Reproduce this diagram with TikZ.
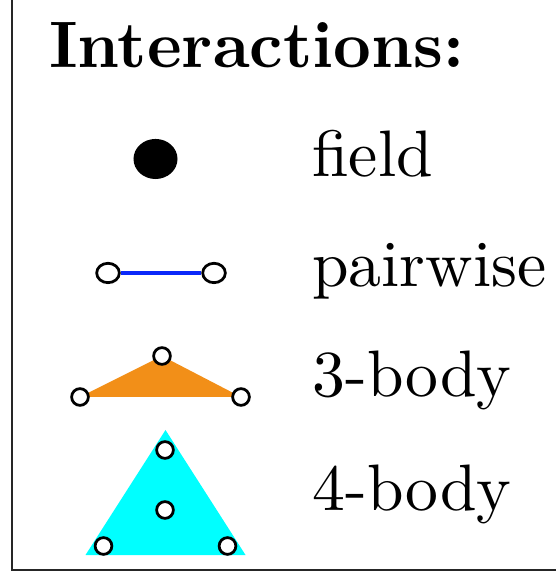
\documentclass[tikz,border=0pt]{standalone}
\usetikzlibrary{shapes.geometric}
\definecolor{pairblue}{RGB}{10,40,250}
\definecolor{triorange}{RGB}{242,143,24}
\definecolor{quadcyan}{RGB}{0,255,255}
\begin{document}
\begin{tikzpicture}[x=0.1522pt,y=-0.1522pt,
  vtx/.style={circle,draw=black,fill=white,line width=0.42pt,inner sep=0pt,minimum size=2.55pt},
  pairvtx/.style={ellipse,draw=black,fill=white,line width=0.42pt,inner sep=0pt,minimum width=3.45pt,minimum height=2.95pt},
  fielddot/.style={ellipse,fill=black,inner sep=0pt,minimum width=6.7pt,minimum height=6.1pt},
  label/.style={anchor=base west,inner sep=0pt,font=\fontsize{10}{12}\selectfont},
  frameline/.style={draw=black!85,line width=0.22pt}]
\useasboundingbox (0,0) rectangle (555,577);
% frame (left and bottom edges visible)
\coordinate (ftop) at (12,-5);
\coordinate (fcorner) at (12,570);
\coordinate (fright) at (560,570);
\draw[frameline] (ftop) -- (fcorner) -- (fright);
% title
\node[label,font=\fontsize{10}{12}\selectfont\bfseries] (title) at (48,68) {Interactions:};
% field
\node[fielddot] (field) at (155.5,159) {};
\node[label] (tfield) at (311,177) {field};
% pairwise
\node[pairvtx] (p1) at (108,273) {};
\node[pairvtx] (p2) at (214,273) {};
\draw[pairblue,line width=0.55pt] (p1) -- (p2);
\node[label] (tpair) at (311,287) {pairwise};
% 3-body
\coordinate (t1) at (162,356);
\coordinate (t2) at (80,397);
\coordinate (t3) at (241,397);
\fill[triorange] (t1) -- (t2) -- (t3) -- cycle;
\node[vtx] (b1) at (t1) {};
\node[vtx] (b2) at (t2) {};
\node[vtx] (b3) at (t3) {};
\node[label] (tthree) at (311,397) {3-body};
% 4-body
\coordinate (q1) at (165.5,430);
\coordinate (q2) at (85.5,555);
\coordinate (q3) at (245.5,555);
\fill[quadcyan] (q1) -- (q2) -- (q3) -- cycle;
\node[vtx] (c1) at (165,450) {};
\node[vtx] (c2) at (165,510) {};
\node[vtx] (c3) at (103.5,546) {};
\node[vtx] (c4) at (227.5,546) {};
\node[label] (tfour) at (311,510) {4-body};
\end{tikzpicture}
\end{document}
